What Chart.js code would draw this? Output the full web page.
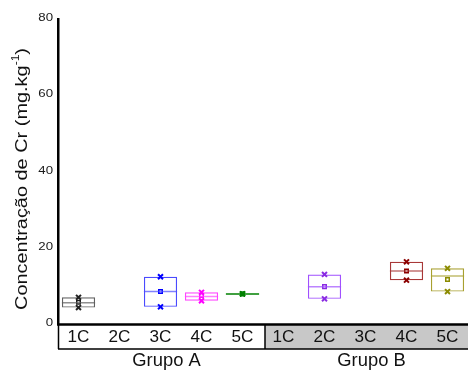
<!DOCTYPE html>
<html><head><meta charset="utf-8">
<script src="https://cdn.jsdelivr.net/npm/chart.js@4.4.1/dist/chart.umd.min.js"></script>
<style>html,body{margin:0;padding:0;background:#fff;overflow:hidden}#wrap{width:468px;height:374px}canvas{display:block}</style>
</head><body><div id="wrap"><canvas id="c" width="468" height="374"></canvas></div>
<script>
const categories = ['1C','2C','3C','4C','5C','1C','2C','3C','4C','5C'];
const groups = ['Grupo A','Grupo B'];
const minValues    = [4.3, null, 4.5, 6.1, 7.9, null, 6.6, null, 11.5, 8.5];
const maxValues    = [7.0, null, 12.4, 8.3, 7.9, null, 13.0, null, 16.3, 14.6];
const medianValues = [5.6, null, 8.5, 7.2, 7.9, null, 9.8, null, 13.9, 12.6];
const meanValues   = [5.7, null, 8.5, 7.5, 7.9, null, 9.8, null, 13.9, 11.7];
const yTicks = [0, 20, 40, 60, 80];
const boxColors  = ['#606060', null, '#4a4aff', '#ff44ff', '#008000', null, '#a050ff', null, '#a83838', '#a8a030'];
const markColors = ['#202020', null, '#0000ff', '#ff00ff', '#008000', null, '#8a2be2', null, '#8b0000', '#8b8b00'];

const ranges = minValues.map((v, i) => v == null ? null : [v, maxValues[i]]);
const FONT = '"Liberation Sans", Arial, sans-serif';

function stretchText(ctx, text, x, y, sx) {
  ctx.save(); ctx.translate(x, y); ctx.scale(sx, 1); ctx.fillText(text, 0, 0); ctx.restore();
}

const tablePlugin = {
  id: 'tablePlugin',
  afterDraw(chart) {
    const ctx = chart.ctx, x = chart.scales.x, y = chart.scales.y, ca = chart.chartArea;
    // median lines
    ctx.save();
    medianValues.forEach((m, i) => {
      if (m == null) return;
      const meta = chart.getDatasetMeta(0).data[i];
      const w = meta.width;
      const px = x.getPixelForValue(i), py = y.getPixelForValue(m);
      ctx.strokeStyle = boxColors[i];
      ctx.globalAlpha = (minValues[i] === maxValues[i]) ? 1 : 0.7;
      ctx.lineWidth = 1.5;
      ctx.beginPath(); ctx.moveTo(px - w/2, py); ctx.lineTo(px + w/2, py); ctx.stroke();
    });
    ctx.restore();
    // y tick labels
    ctx.save();
    ctx.fillStyle = '#1a1a1a';
    ctx.font = '11.5px ' + FONT;
    ctx.textAlign = 'right'; ctx.textBaseline = 'middle';
    yTicks.forEach(v => stretchText(ctx, String(v), ca.left - 5, y.getPixelForValue(v) - 1, 1.15));
    ctx.restore();
    // table
    const top = ca.bottom, bot = ca.bottom + 25;
    const left = ca.left, right = ca.right;
    const mid = (x.getPixelForValue(4) + x.getPixelForValue(5)) / 2 + 2;
    ctx.save();
    ctx.fillStyle = '#c8c8c8';
    ctx.fillRect(mid, top, right - mid, bot - top);
    ctx.strokeStyle = '#000';
    ctx.lineWidth = 1.5;
    ctx.beginPath();
    ctx.moveTo(left + 0.5, top); ctx.lineTo(left + 0.5, bot);
    ctx.moveTo(mid, top); ctx.lineTo(mid, bot);
    ctx.moveTo(left, bot); ctx.lineTo(right, bot);
    ctx.stroke();
    ctx.lineWidth = 2.5;
    ctx.beginPath(); ctx.moveTo(left - 1, top + 0.5); ctx.lineTo(right, top + 0.5); ctx.stroke();
    ctx.fillStyle = '#111';
    ctx.font = '16px ' + FONT;
    ctx.textAlign = 'center'; ctx.textBaseline = 'middle';
    categories.forEach((c, i) => stretchText(ctx, c, x.getPixelForValue(i), (top + bot) / 2 + 1, 1.07));
    ctx.font = '17.5px ' + FONT;
    stretchText(ctx, groups[0], (x.getPixelForValue(0) + x.getPixelForValue(4)) / 2 + 6, bot + 12, 1.05);
    stretchText(ctx, groups[1], (x.getPixelForValue(5) + x.getPixelForValue(9)) / 2 + 6, bot + 12, 1.05);
    // y title with superscript
    ctx.translate(22.5, 179);
    ctx.rotate(-Math.PI / 2);
    const t1 = 'Concentração de Cr (mg.kg', t2 = '-1', t3 = ')';
    ctx.font = '16.5px ' + FONT;
    const w1 = ctx.measureText(t1).width, w3 = ctx.measureText(t3).width;
    ctx.font = '10px ' + FONT;
    const w2 = ctx.measureText(t2).width;
    const total = w1 + w2 + w3;
    const sx = 262 / total;
    ctx.scale(sx, 1);
    ctx.textAlign = 'left'; ctx.textBaseline = 'middle';
    ctx.fillStyle = '#111';
    ctx.font = '16.5px ' + FONT;
    ctx.fillText(t1, -total / 2, 0);
    ctx.font = '10px ' + FONT;
    ctx.fillText(t2, -total / 2 + w1, -6);
    ctx.font = '16.5px ' + FONT;
    ctx.fillText(t3, -total / 2 + w1 + w2, 0);
    ctx.restore();
  }
};

new Chart(document.getElementById('c'), {
  type: 'bar',
  data: {
    labels: categories.map((c, i) => i),
    datasets: [
      { type: 'bar', data: ranges, backgroundColor: 'rgba(0,0,0,0)', borderColor: boxColors.map(c => c || '#000'),
        borderWidth: 1.2, borderSkipped: false, barPercentage: 0.81, categoryPercentage: 1, order: 3 },
      { type: 'line', data: maxValues, showLine: false, pointStyle: 'crossRot', pointRadius: 3.5,
        pointBorderWidth: 2, pointBorderColor: markColors.map(c => c || '#000'), order: 1 },
      { type: 'line', data: minValues, showLine: false, pointStyle: 'crossRot', pointRadius: 3.5,
        pointBorderWidth: 2, pointBorderColor: markColors.map(c => c || '#000'), order: 1 },
      { type: 'line', data: meanValues, showLine: false, pointStyle: 'rect', pointRadius: 2.5,
        pointBorderWidth: 1.5, pointBackgroundColor: '#fff', pointBorderColor: markColors.map(c => c || '#000'), order: 1 }
    ]
  },
  options: {
    responsive: false, animation: false, devicePixelRatio: 1,
    layout: { autoPadding: false, padding: { top: 19, right: 0, bottom: 50, left: 0 } },
    plugins: { legend: { display: false }, tooltip: { enabled: false } },
    scales: {
      x: { display: false, offset: true, grid: { display: false } },
      y: {
        min: 0, max: 80,
        afterFit: s => { s.width = 58; },
        afterBuildTicks: s => { s.ticks = yTicks.map(v => ({ value: v })); },
        grid: { display: false, drawTicks: false },
        border: { color: '#000', width: 2.5 },
        ticks: { display: false }
      }
    }
  },
  plugins: [tablePlugin]
});
</script></body></html>
